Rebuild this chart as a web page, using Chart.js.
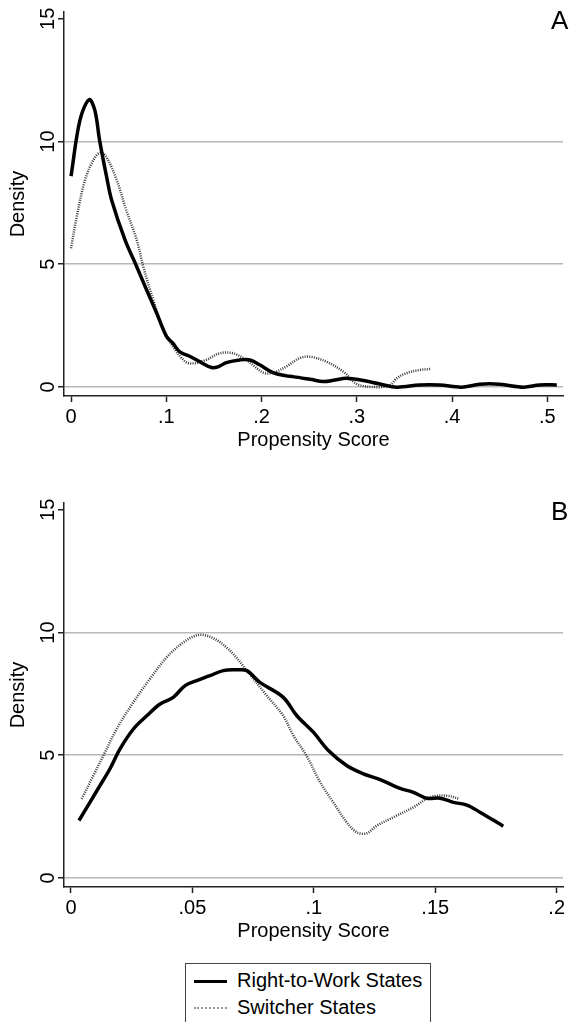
<!DOCTYPE html>
<html>
<head>
<meta charset="utf-8">
<script src="https://cdn.jsdelivr.net/npm/chart.js@4/dist/chart.umd.min.js"></script>
<style>
  body { margin: 0; background: #fff; font-family: "Liberation Sans", Arial, sans-serif; }
  #wrap { position: relative; width: 574px; height: 1022px; overflow: hidden; }
  canvas { position: absolute; left: 0; }
  .panel { position: absolute; font-size: 26px; color: #000; line-height: 1; }
  #legend { position: absolute; left: 185px; top: 963px; width: 246px; height: 80px;
            border: 1px solid #444; box-sizing: border-box; }
  .row { position: absolute; left: 0; font-size: 20px; line-height: 20px; white-space: nowrap; }
  .swatch { position: absolute; left: 8px; width: 33px; top: 10px; }
  .row span.txt { position: absolute; left: 51px; top: 0; }
</style>
</head>
<body>
<div id="wrap">
  <canvas id="chartA" width="574" height="460" style="top:0"></canvas>
  <canvas id="chartB" width="574" height="460" style="top:491px"></canvas>
  <div class="panel" id="labA" style="left:551px; top:7px"></div>
  <div class="panel" id="labB" style="left:551px; top:498px"></div>
  <div id="legend"></div>
</div>
<script>
const seriesNames = ['Right-to-Work States', 'Switcher States'];
const panelLabels = ['A', 'B'];
const yTicks = [0, 5, 10, 15];
const yLabels = ['0', '5', '10', '15'];

// panel A
const xTicksA = [0, 0.1, 0.2, 0.3, 0.4, 0.5];
const xLabelsA = ['0', '.1', '.2', '.3', '.4', '.5'];
const rtwAx = [0, 0.0094, 0.019, 0.025, 0.030, 0.0374, 0.0427, 0.0567, 0.069, 0.0794, 0.09, 0.1004, 0.107, 0.114, 0.1266, 0.135, 0.1476, 0.155, 0.163, 0.177, 0.188, 0.198, 0.212, 0.226, 0.233, 0.251, 0.265, 0.277, 0.289, 0.307, 0.324, 0.342, 0.366, 0.387, 0.41, 0.429, 0.45, 0.475, 0.492, 0.51];
const rtwAy = [8.59, 10.87, 11.71, 11.28, 10.06, 8.56, 7.61, 5.99, 4.9, 3.95, 3.0, 2.05, 1.78, 1.44, 1.21, 1.03, 0.79, 0.83, 0.99, 1.1, 1.1, 0.9, 0.58, 0.45, 0.42, 0.31, 0.22, 0.28, 0.35, 0.26, 0.12, -0.01, 0.08, 0.08, -0.01, 0.11, 0.11, -0.01, 0.08, 0.08];
const swAx = [0, 0.006, 0.0147, 0.0234, 0.0304, 0.037, 0.048, 0.058, 0.069, 0.0759, 0.0864, 0.0969, 0.107, 0.12, 0.128, 0.142, 0.156, 0.17, 0.184, 0.202, 0.212, 0.226, 0.24, 0.251, 0.268, 0.286, 0.30, 0.321, 0.335, 0.342, 0.352, 0.366, 0.377];
const swAy = [5.65, 6.93, 8.43, 9.24, 9.54, 9.38, 8.43, 7.21, 5.99, 4.9, 3.54, 2.32, 1.64, 1.03, 0.96, 1.1, 1.37, 1.37, 1.1, 0.58, 0.58, 0.83, 1.17, 1.23, 1.03, 0.62, 0.12, -0.01, 0.08, 0.35, 0.56, 0.69, 0.73];

// panel B
const xTicksB = [0, 0.05, 0.1, 0.15, 0.2];
const xLabelsB = ['0', '.05', '.1', '.15', '.2'];
const rtwBx = [0.0033, 0.0078, 0.0119, 0.016, 0.0202, 0.0257, 0.0312, 0.0367, 0.0421, 0.047, 0.0518, 0.0572, 0.0627, 0.0682, 0.0724, 0.0778, 0.0874, 0.093, 0.0998, 0.106, 0.1135, 0.1204, 0.1273, 0.1355, 0.141, 0.1465, 0.152, 0.1575, 0.163, 0.1684, 0.178];
const rtwBy = [2.34, 3.08, 3.76, 4.44, 5.26, 6.07, 6.61, 7.09, 7.36, 7.84, 8.04, 8.24, 8.45, 8.48, 8.45, 7.97, 7.36, 6.61, 5.94, 5.19, 4.58, 4.24, 4.01, 3.65, 3.49, 3.25, 3.25, 3.08, 2.97, 2.68, 2.11];
const swBx = [0.0044, 0.0092, 0.0133, 0.0188, 0.0257, 0.0325, 0.0394, 0.0463, 0.0524, 0.0586, 0.0655, 0.0724, 0.0806, 0.0874, 0.0916, 0.097, 0.1026, 0.108, 0.1135, 0.1177, 0.1218, 0.1259, 0.1327, 0.141, 0.1479, 0.1547, 0.160];
const swBy = [3.22, 4.17, 4.98, 6.07, 7.16, 8.11, 8.99, 9.6, 9.9, 9.77, 9.26, 8.45, 7.43, 6.61, 5.8, 4.98, 3.9, 3.08, 2.27, 1.86, 1.82, 2.13, 2.47, 2.88, 3.29, 3.35, 3.22];

const FONT = '"Liberation Sans", Arial, sans-serif';

function pts(xs, ys) {
    return xs.map((x, i) => ({ x, y: ys[i] }));
}

// vertical (rotated) y tick labels, placed from the y scale
const yLabelPlugin = {
    id: 'yLabels',
    afterDraw(chart) {
        const s = chart.scales.y;
        const ctx = chart.ctx;
        ctx.save();
        ctx.font = '20px ' + FONT;
        ctx.fillStyle = '#000';
        ctx.textAlign = 'center';
        ctx.textBaseline = 'middle';
        yTicks.forEach((v, i) => {
            ctx.save();
            ctx.translate(s.right - 16, s.getPixelForValue(v));
            ctx.rotate(-Math.PI / 2);
            ctx.fillText(yLabels[i], 0, 0);
            ctx.restore();
        });
        ctx.restore();
    }
};

function makeChart(id, xMin, xMax, xTicks, xLabels, rtw, sw) {
    return new Chart(document.getElementById(id), {
        type: 'line',
        data: {
            datasets: [{
                label: seriesNames[0],
                data: rtw,
                borderColor: '#000',
                borderWidth: 3.5,
                pointRadius: 0,
                tension: 0.35,
                fill: false
            }, {
                label: seriesNames[1],
                data: sw,
                borderColor: '#3a3a3a',
                borderWidth: 2.5,
                borderDash: [1, 1.3],
                pointRadius: 0,
                tension: 0.35,
                fill: false
            }]
        },
        options: {
            responsive: false,
            animation: false,
            layout: { padding: { top: 12, right: 11, left: 0, bottom: 0 } },
            plugins: { legend: { display: false }, tooltip: { enabled: false } },
            scales: {
                x: {
                    type: 'linear',
                    min: xMin,
                    max: xMax,
                    afterBuildTicks: s => { s.ticks = xTicks.map(v => ({ value: v })); },
                    afterFit: s => { s.height = 64; },
                    border: { color: '#222', width: 1.5 },
                    grid: { drawOnChartArea: false, drawTicks: true, tickLength: 6, tickColor: '#222', tickWidth: 1.5 },
                    ticks: {
                        autoSkip: false, maxRotation: 0, padding: 3, color: '#000',
                        font: { family: FONT, size: 20 },
                        callback: (v, i) => xLabels[i]
                    },
                    title: {
                        display: true, text: 'Propensity Score', color: '#000',
                        font: { family: FONT, size: 20 }, padding: { top: 0, bottom: 8 }
                    }
                },
                y: {
                    min: -0.37,
                    max: 15.28,
                    afterBuildTicks: s => { s.ticks = yTicks.map(v => ({ value: v })); },
                    afterFit: s => { s.width = 64; },
                    border: { color: '#222', width: 1.5 },
                    grid: {
                        color: c => (c.tick && c.tick.value === 15) ? 'rgba(0,0,0,0)' : '#b8b8b8',
                        lineWidth: 1.5,
                        tickLength: 6, tickColor: '#222', tickWidth: 1.5
                    },
                    ticks: { display: false },
                    title: {
                        display: true, text: 'Density', color: '#000',
                        font: { family: FONT, size: 20 }, padding: { top: 6, bottom: 0 }
                    }
                }
            }
        },
        plugins: [yLabelPlugin]
    });
}

makeChart('chartA', -0.00735, 0.5165, xTicksA, xLabelsA, pts(rtwAx, rtwAy), pts(swAx, swAy));
makeChart('chartB', -0.00288, 0.2026, xTicksB, xLabelsB, pts(rtwBx, rtwBy), pts(swBx, swBy));

document.getElementById('labA').textContent = panelLabels[0];
document.getElementById('labB').textContent = panelLabels[1];

const legendEl = document.getElementById('legend');
legendEl.innerHTML = seriesNames.map((name, i) => `
    <div class="row" style="top:${6 + i * 27}px">
        <span class="swatch" style="border-top:${i === 0 ? '3px solid #000' : '2px dotted #999'}"></span>
        <span class="txt">${name}</span>
    </div>`).join('');
</script>
</body>
</html>
